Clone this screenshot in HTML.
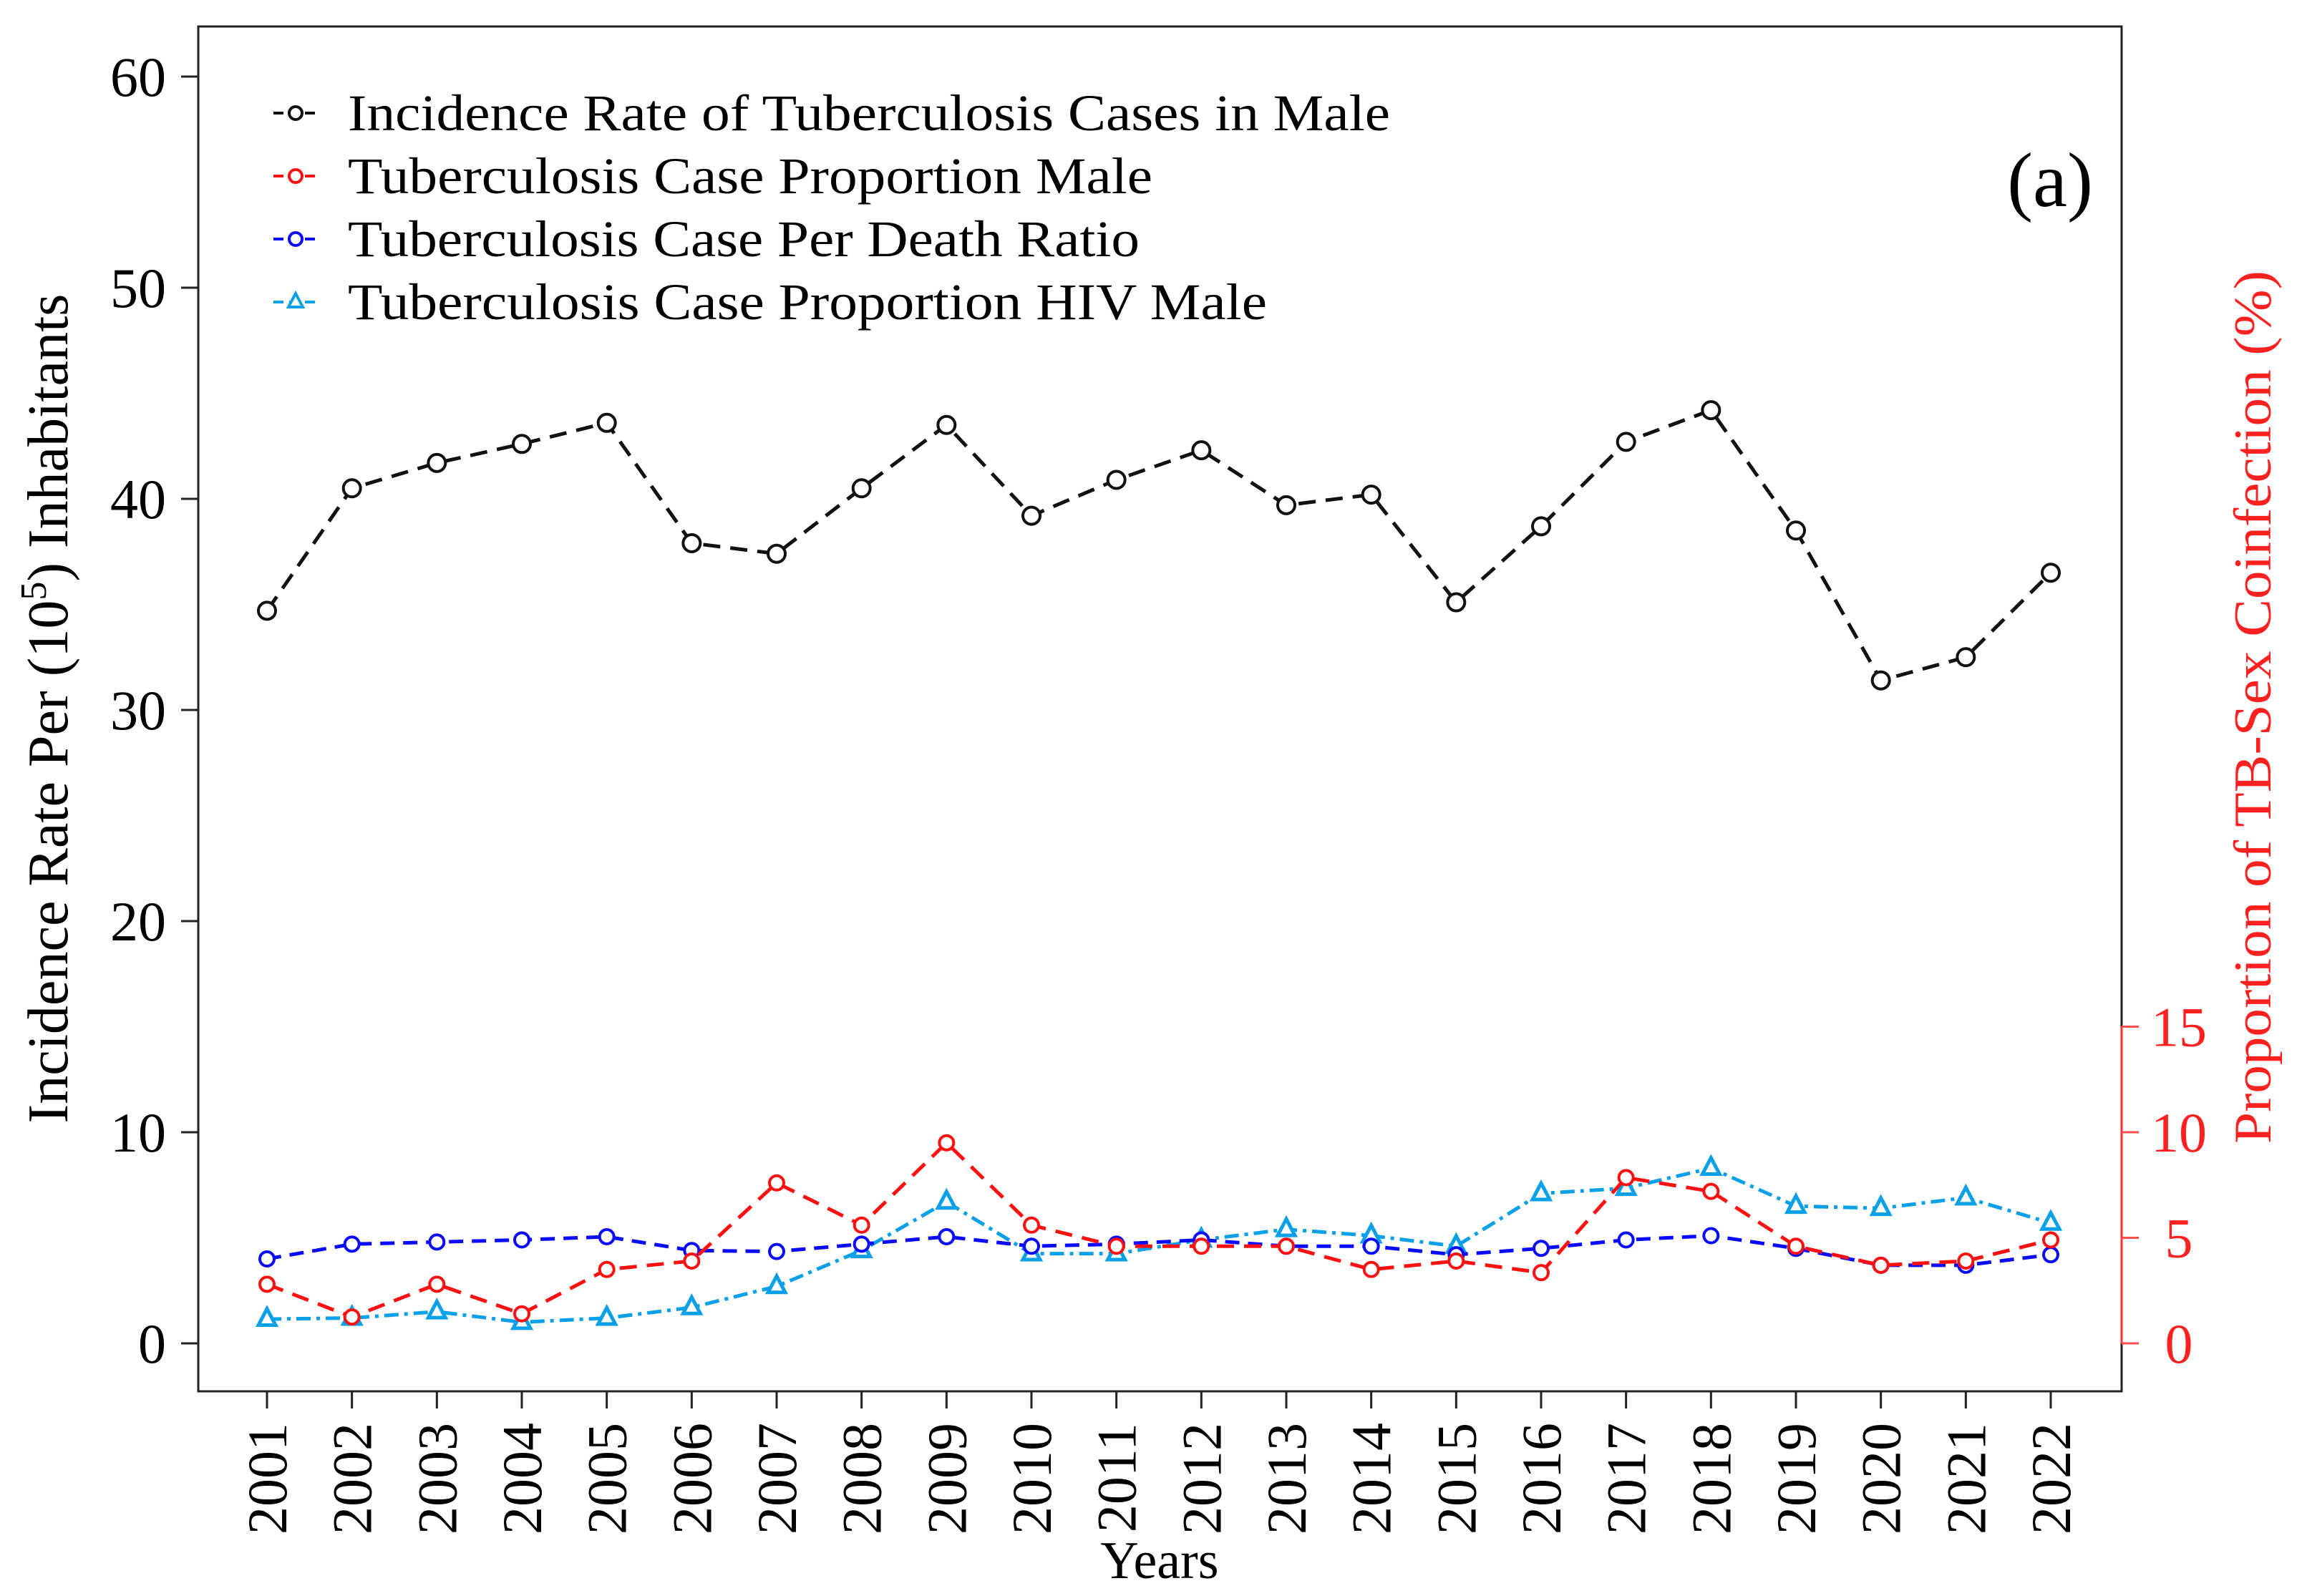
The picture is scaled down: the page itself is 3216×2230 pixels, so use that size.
<!DOCTYPE html>
<html><head><meta charset="utf-8"><style>
html,body{margin:0;padding:0;background:#fff;}
svg{display:block;font-family:"Liberation Serif",serif;}
</style></head><body>
<svg id="chart" width="3216" height="2230" viewBox="0 0 3216 2230" xmlns="http://www.w3.org/2000/svg">
<rect x="0" y="0" width="3216" height="2230" fill="#fff"/>
<g id="plot"></g>
</svg>
<script>
const years = [2001,2002,2003,2004,2005,2006,2007,2008,2009,2010,2011,2012,2013,2014,2015,2016,2017,2018,2019,2020,2021,2022];
const incidenceMale = [34.7,40.5,41.7,42.6,43.6,37.9,37.4,40.5,43.5,39.2,40.9,42.3,39.7,40.2,35.1,38.7,42.7,44.2,38.5,31.4,32.5,36.5];
const propMale = [2.8,1.25,2.8,1.4,3.5,3.9,7.6,5.6,9.5,5.6,4.6,4.6,4.6,3.5,3.9,3.35,7.85,7.2,4.6,3.7,3.9,4.9];
const perDeath = [4.0,4.7,4.8,4.9,5.05,4.4,4.35,4.7,5.05,4.6,4.7,4.9,4.6,4.6,4.2,4.5,4.9,5.1,4.5,3.7,3.7,4.2];
const hivMale = [1.15,1.2,1.5,1.0,1.2,1.7,2.7,4.4,6.7,4.25,4.25,4.9,5.4,5.1,4.6,7.1,7.35,8.3,6.5,6.4,6.9,5.7];
const leftTicks = [0,10,20,30,40,50,60];
const rightTicks = [0,5,10,15];

const NS = "http://www.w3.org/2000/svg";
const g = document.getElementById('plot');
const X0 = 373, XSTEP = (2865-373)/21, Y0 = 1877, YU = 29.5;
function xs(i){ return X0 + i*XSTEP; }
function ys(v){ return Y0 - v*YU; }
function mk(tag, attrs, parent){ const e=document.createElementNS(NS,tag); for(const k in attrs) e.setAttribute(k,attrs[k]); (parent||g).appendChild(e); return e; }

const frame = mk('rect',{x:277,y:37,width:2687,height:1907,fill:'none',stroke:'#222','stroke-width':3});


const raxis = mk('line',{x1:2964,y1:ys(0),x2:2964,y2:ys(15),stroke:'#ff3030','stroke-width':3});



leftTicks.forEach(v=>{
  const t = mk('line',{x1:253,y1:ys(v),x2:277,y2:ys(v),stroke:'#222','stroke-width':3});
  
  
  const l = mk('text',{x:232,y:ys(v)+27,'text-anchor':'end','font-size':78,fill:'#000'});
  l.textContent = v;
  
  
});
rightTicks.forEach(v=>{
  const t = mk('line',{x1:2964,y1:ys(v),x2:2988,y2:ys(v),stroke:'#ff5050','stroke-width':3});
  
  
  const l = mk('text',{x:3044,y:ys(v)+27,'text-anchor':'middle','font-size':78,fill:'#ff2020'});
  l.textContent = v;
  
  
});
years.forEach((yr,i)=>{
  const t = mk('line',{x1:xs(i),y1:1944,x2:xs(i),y2:1968,stroke:'#222','stroke-width':3});
  
  
  const l = mk('text',{x:0,y:0,'text-anchor':'end','font-size':78,fill:'#000',transform:`translate(${xs(i)+27},1988) rotate(-90)`});
  l.textContent = yr;
  
  
});

function series(vals, color, dash, marker, r, name){
  const pts = vals.map((v,i)=>xs(i)+','+ys(v)).join(' ');
  const pl = mk('polyline',{points:pts,fill:'none',stroke:color,'stroke-width':5,'stroke-dasharray':dash});
  
  
  vals.forEach((v,i)=>{
    let m;
    if(marker==='circle') m = mk('circle',{cx:xs(i),cy:ys(v),r:r,fill:'#fff',stroke:color,'stroke-width':4});
    else { const x=xs(i), y=ys(v); m = mk('polygon',{points:`${x},${y-r*1.2} ${x-r},${y+r*0.7} ${x+r},${y+r*0.7}`,fill:'#fff',stroke:color,'stroke-width':5}); }
    
    
  });
}
series(hivMale,'#0aa0e8','20,8,5,8','tri',12,'hiv-male');
series(perDeath,'#0a0aff','20,12','circle',10,'per-death');
series(propMale,'#ff1010','24,14','circle',10,'prop-male');
series(incidenceMale,'#111','24,14','circle',12,'incidence-male');

const leg = [['Incidence Rate of Tuberculosis Cases in Male','#111','circle',1456],
             ['Tuberculosis Case Proportion Male','#ff1010','circle',1124],
             ['Tuberculosis Case Per Death Ratio','#0a0aff','circle',1106],
             ['Tuberculosis Case Proportion HIV Male','#0aa0e8','tri',1284]];
leg.forEach((e,k)=>{
  const y = 158 + k*88;
  const ln = mk('line',{x1:382,y1:y,x2:444,y2:y,stroke:e[1],'stroke-width':4,'stroke-dasharray':'14,8'});
  
  
  if(e[2]==='circle'){ const c=mk('circle',{cx:413,cy:y,r:9,fill:'#fff',stroke:e[1],'stroke-width':4});   }
  else { const p=mk('polygon',{points:`413,${y-12} 403,${y+7} 423,${y+7}`,fill:'#fff',stroke:e[1],'stroke-width':4});   }
  const t = mk('text',{x:486,y:y+24,'font-size':72,fill:'#000',textLength:e[3],lengthAdjust:'spacingAndGlyphs'});
  t.textContent = e[0];
  
  
});

const pa = mk('text',{x:2864,y:288,'text-anchor':'middle','font-size':108,fill:'#000'});
pa.textContent='(a)';



const yt = mk('text',{x:0,y:0,'text-anchor':'middle','font-size':80,fill:'#000',transform:'translate(94,990) rotate(-90)'});
yt.innerHTML = 'Incidence Rate Per (10<tspan dy="-30" font-size="52">5</tspan><tspan dy="30">) Inhabitants</tspan>';



const rt = mk('text',{x:0,y:0,'text-anchor':'middle','font-size':74,fill:'#ff2020',transform:'translate(3172,988) rotate(-90)',textLength:1220,lengthAdjust:'spacingAndGlyphs'});
rt.textContent = 'Proportion of TB-Sex Coinfection (%)';



const xt = mk('text',{x:1620,y:2205,'text-anchor':'middle','font-size':74,fill:'#000'});
xt.textContent = 'Years';


</script>
</body></html>
